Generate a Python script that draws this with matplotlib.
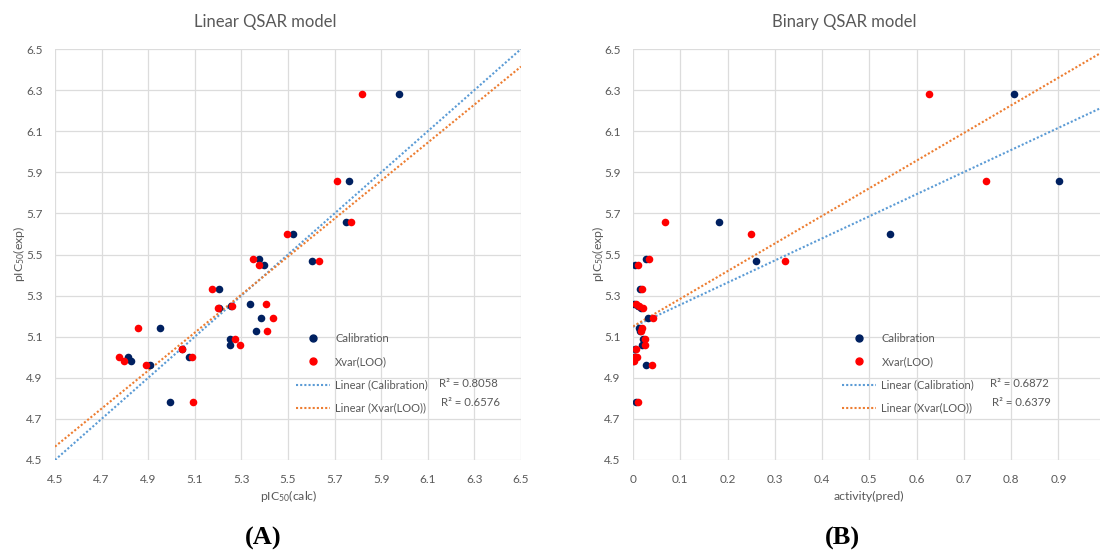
import matplotlib
matplotlib.use("Agg")
import matplotlib.pyplot as plt
import numpy as np
from matplotlib.lines import Line2D

plt.rcParams['font.family'] = ['Lato', 'DejaVu Sans']
plt.rcParams['mathtext.default'] = 'regular'

# experimental pIC50 (shared y values of both panels)
pic50_exp = [6.28, 5.86, 5.66, 5.60, 5.48, 5.47, 5.45, 5.33, 5.26, 5.25, 5.24,
             5.19, 5.14, 5.13, 5.09, 5.06, 5.04, 5.00, 5.00, 4.98, 4.96, 4.78]

# panel A: linear model, calculated pIC50
lin_calib = [5.977, 5.762, 5.751, 5.521, 5.374, 5.601, 5.398, 5.204, 5.339, 5.255, 5.204,
             5.384, 4.950, 5.364, 5.253, 5.253, 5.045, 4.813, 5.074, 4.828, 4.908, 4.995]
lin_loo = [5.817, 5.711, 5.771, 5.494, 5.350, 5.631, 5.374, 5.175, 5.407, 5.261, 5.198,
           5.437, 4.858, 5.410, 5.271, 5.294, 5.043, 4.775, 5.086, 4.798, 4.890, 5.091]

# panel B: binary model, predicted activity
bin_calib = [0.805, 0.902, 0.182, 0.543, 0.027, 0.260, 0.005, 0.014, 0.003, 0.010, 0.017,
             0.031, 0.012, 0.014, 0.021, 0.019, 0.005, 0.003, 0.005, 0.001, 0.028, 0.006]
bin_loo = [0.626, 0.747, 0.068, 0.249, 0.034, 0.322, 0.011, 0.018, 0.006, 0.013, 0.022,
           0.042, 0.018, 0.017, 0.026, 0.025, 0.006, 0.005, 0.008, 0.002, 0.040, 0.010]

# trendlines (slope, intercept) as drawn in the chart
lin_calib_fit = (1.0, 0.0)
lin_loo_fit = (0.9245, 0.405)
bin_calib_fit = (1.076, 5.148)
bin_loo_fit = (1.345, 5.150)

r2_lin = ["R\u00b2 = 0.8058", "R\u00b2 = 0.6576"]
r2_bin = ["R\u00b2 = 0.6872", "R\u00b2 = 0.6379"]

y_ticks = np.arange(4.5, 6.51, 0.2)
lin_x_ticks = np.arange(4.5, 6.51, 0.2)
bin_x_ticks = [0, 0.1, 0.2, 0.3, 0.4, 0.5, 0.6, 0.7, 0.8, 0.9]
bin_x_labels = ["0", "0.1", "0.2", "0.3", "0.4", "0.5", "0.6", "0.7", "0.8", "0.9"]

NAVY = "#002060"
RED = "#FF0000"
BLUE = "#5B9BD5"
ORANGE = "#ED7D31"
GRID = "#DCDCDC"
TXT = "#595959"
DOT = (0, (1, 1))

W, H = 1100, 552
fig = plt.figure(figsize=(11, 5.52), dpi=100)
fig.patch.set_facecolor("white")

ax1 = fig.add_axes([55 / W, 1 - 460 / H, 466 / W, 411 / H])
ax2 = fig.add_axes([633 / W, 1 - 460 / H, 468 / W, 411 / H])


def style(ax):
    ax.set_ylim(4.5, 6.5)
    ax.set_yticks(y_ticks)
    ax.set_yticklabels([f"{v:.1f}" for v in y_ticks])
    ax.grid(True, color=GRID, linewidth=0.9)
    ax.set_axisbelow(True)
    for s in ax.spines.values():
        s.set_visible(False)
    ax.tick_params(length=0, labelsize=8.5, labelcolor=TXT)
    ax.tick_params(axis="y", pad=9)
    ax.tick_params(axis="x", pad=10)


def trend(ax, fit, x0, x1, color):
    xs = np.array([x0, x1])
    ax.plot(xs, fit[0] * xs + fit[1], color=color, lw=1.5, linestyle=DOT,
            dash_capstyle="butt", zorder=2)


# panel A
style(ax1)
ax1.set_xlim(4.5, 6.5)
ax1.set_xticks(lin_x_ticks)
ax1.set_xticklabels([f"{v:.1f}" for v in lin_x_ticks])
ax1.scatter(lin_calib, pic50_exp, s=30, color=NAVY, zorder=3, linewidths=0)
ax1.scatter(lin_loo, pic50_exp, s=30, color=RED, zorder=4, linewidths=0)
trend(ax1, lin_calib_fit, 4.5, 6.5, BLUE)
trend(ax1, lin_loo_fit, 4.5, 6.5, ORANGE)

# panel B
style(ax2)
ax2.set_xlim(0, 0.99)
ax2.set_xticks(bin_x_ticks)
ax2.set_xticklabels(bin_x_labels)
ax2.scatter(bin_calib, pic50_exp, s=30, color=NAVY, zorder=3, linewidths=0)
ax2.scatter(bin_loo, pic50_exp, s=30, color=RED, zorder=4, linewidths=0)
trend(ax2, bin_calib_fit, 0.0, 0.99, BLUE)
trend(ax2, bin_loo_fit, 0.0, 0.99, ORANGE)

handles = [
    Line2D([], [], marker="o", color=NAVY, linestyle="none", markersize=5),
    Line2D([], [], marker="o", color=RED, linestyle="none", markersize=5),
    Line2D([], [], color=BLUE, lw=1.5, linestyle=DOT, dash_capstyle="butt"),
    Line2D([], [], color=ORANGE, lw=1.5, linestyle=DOT, dash_capstyle="butt"),
]
labels = ["Calibration", "Xvar(LOO)", "Linear (Calibration)", "Linear (Xvar(LOO))"]

for ax, x_anchor, r2, rx in [(ax1, 0.517, r2_lin, 0.825), (ax2, 0.4466, r2_bin, 0.763)]:
    leg = ax.legend(handles, labels, loc="upper left", bbox_to_anchor=(x_anchor, 0.309),
                    frameon=False, fontsize=8.0, handlelength=3.1, handletextpad=0.45,
                    labelspacing=1.1, borderpad=0, borderaxespad=0)
    for t in leg.get_texts():
        t.set_color(TXT)
    ax.text(rx, 0.185, r2[0], transform=ax.transAxes, fontsize=8.2, color=TXT, va="center")
    ax.text(rx + 0.004, 0.141, r2[1], transform=ax.transAxes, fontsize=8.2, color=TXT,
            va="center")

# titles and axis labels
fig.text(265 / W, 1 - 22 / H, "Linear QSAR model", ha="center", va="center",
         fontsize=12, color=TXT)
fig.text(844 / W, 1 - 22 / H, "Binary QSAR model", ha="center", va="center",
         fontsize=12, color=TXT)
fig.text(289 / W, 1 - 496 / H, "pIC$_{50}$(calc)", ha="center", va="center",
         fontsize=8.8, color=TXT)
fig.text(869 / W, 1 - 496 / H, "activity(pred)", ha="center", va="center",
         fontsize=8.8, color=TXT)
fig.text(19 / W, 1 - 254 / H, "pIC$_{50}$(exp)", ha="center", va="center",
         rotation=90, fontsize=8.8, color=TXT)
fig.text(598 / W, 1 - 254 / H, "pIC$_{50}$(exp)", ha="center", va="center",
         rotation=90, fontsize=8.8, color=TXT)

fig.text(263 / W, 1 - 538 / H, "(A)", ha="center", va="center", fontsize=19,
         fontweight="bold", family="Liberation Serif", color="black")
fig.text(842 / W, 1 - 538 / H, "(B)", ha="center", va="center", fontsize=19,
         fontweight="bold", family="Liberation Serif", color="black")

fig.savefig("out.png", dpi=100, facecolor="white")
